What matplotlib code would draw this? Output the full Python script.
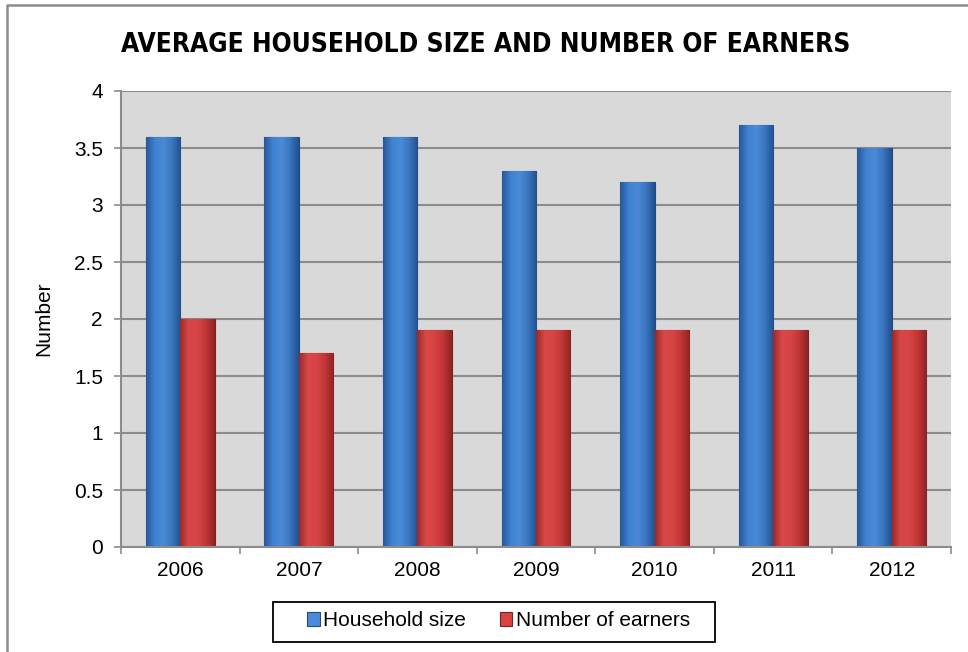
import matplotlib
matplotlib.use("Agg")
import matplotlib.pyplot as plt
import numpy as np
from matplotlib.colors import LinearSegmentedColormap
from matplotlib.lines import Line2D
from matplotlib.patches import Rectangle

years = ["2006", "2007", "2008", "2009", "2010", "2011", "2012"]
household_size = [3.6, 3.6, 3.6, 3.3, 3.2, 3.7, 3.5]
num_earners = [2.0, 1.7, 1.9, 1.9, 1.9, 1.9, 1.9]

plt.rcParams['font.family'] = ['Liberation Sans', 'DejaVu Sans']

W, H = 968, 652
fig = plt.figure(figsize=(W / 100, H / 100), dpi=100)

def px(x, y):
    # pixel position (from top-left) -> figure fraction
    return x / W, 1 - y / H

# grey chart frame, only top and left edges are in view
fx0, fy0 = px(7, H)
fx1, fy1 = px(7, 5)
fig.lines.append(Line2D([fx0, fx1, 1.0], [fy0, fy1, fy1], transform=fig.transFigure,
                        color='#8c8c8c', linewidth=1.8))

ax = fig.add_axes([121 / W, 1 - 547 / H, 830 / W, 456 / H])
ax.set_facecolor('#d9d9d9')

x = np.arange(len(years))
w = 0.29
blue = LinearSegmentedColormap.from_list('b', ['#28579a', '#3f82d0', '#4a8ad6', '#3a76c0', '#23508e'])
red = LinearSegmentedColormap.from_list('r', ['#9c2a2a', '#d84848', '#d64444', '#c23636', '#8e2424'])

def shaded_bars(xs, vals, cmap, edge, label):
    bars = ax.bar(xs, vals, w, color=cmap(0.5), edgecolor=edge, linewidth=0.8, label=label, zorder=2)
    grad = np.linspace(0, 1, 64).reshape(1, -1)
    for b in bars:
        x0, y0 = b.get_x(), b.get_y()
        im = ax.imshow(grad, cmap=cmap, aspect='auto', zorder=2.5,
                       extent=(x0, x0 + b.get_width(), y0, y0 + b.get_height()))
        im.set_clip_path(b)
    return bars

shaded_bars(x - w / 2, household_size, blue, '#1f4a82', 'Household size')
shaded_bars(x + w / 2, num_earners, red, '#7e2020', 'Number of earners')

ax.set_xlim(-0.5, len(years) - 0.5)
ax.set_ylim(0, 4)
ax.set_yticks(np.arange(0, 4.01, 0.5))
ax.set_yticklabels(['0', '0.5', '1', '1.5', '2', '2.5', '3', '3.5', '4'])
ax.yaxis.grid(True, color='#8c8c8c', linewidth=1.5, zorder=1)
ax.set_axisbelow(True)

ax.set_xticks(x)
ax.set_xticklabels(years)
ax.set_xticks(np.arange(-0.5, len(years)), minor=True)
ax.tick_params(axis='x', which='major', length=0, pad=10, labelsize=15)
ax.tick_params(axis='x', which='minor', length=5, color='#8c8c8c', width=1.2)
ax.tick_params(axis='y', length=5, color='#8c8c8c', width=1.2, labelsize=15, pad=8)

for s in ['top', 'right']:
    ax.spines[s].set_visible(False)
ax.spines['left'].set_color('#8c8c8c')
ax.spines['left'].set_linewidth(1.5)
ax.spines['bottom'].set_color('#8c8c8c')
ax.spines['bottom'].set_linewidth(1.5)

ax.set_ylabel('Number', fontsize=15)
ax.yaxis.set_label_coords((53 - 121) / 830, 0.5)

tx, ty = px(485.5, 45)
fig.text(tx, ty, 'AVERAGE HOUSEHOLD SIZE AND NUMBER OF EARNERS', ha='center', va='center',
         fontsize=18.9, fontweight='bold', family='DejaVu Sans', fontstretch='condensed')

# legend box drawn separately so its padding can be set exactly
bx, by = px(273, 642)
fig.patches.append(Rectangle((bx, by), 442 / W, 40 / H, transform=fig.transFigure,
                             facecolor='white', edgecolor='black', linewidth=1.3, zorder=-1))
lx, ly = px(498.5, 621)
leg = ax.legend(loc='center', bbox_to_anchor=(lx, ly), bbox_transform=fig.transFigure, ncol=2,
                fontsize=15, frameon=False, handlelength=0.62, handleheight=0.62,
                handletextpad=0.15, columnspacing=1.6, borderpad=0, borderaxespad=0)

fig.savefig('out.png', dpi=100)
